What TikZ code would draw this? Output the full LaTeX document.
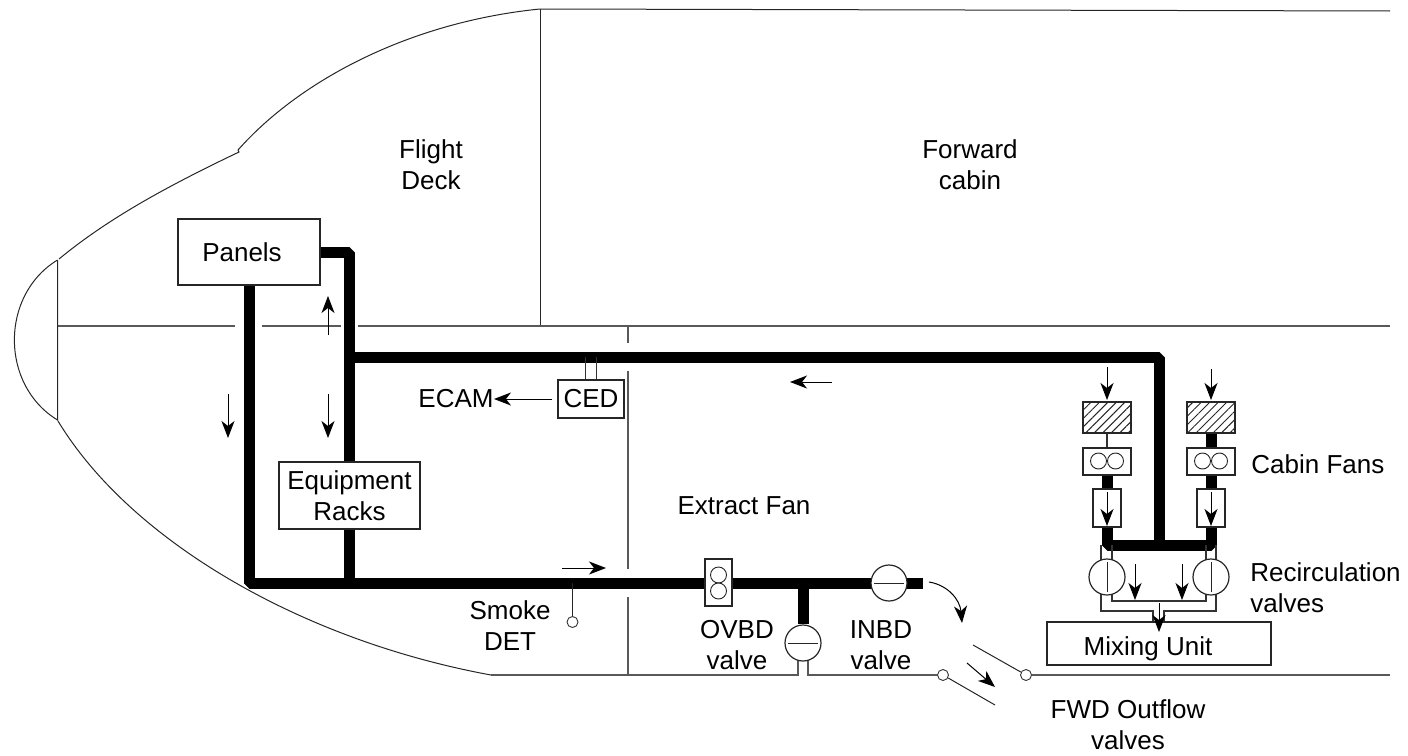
\documentclass[tikz,border=0pt]{standalone}
\usepackage{fontspec}
\setmainfont{Liberation Sans}
\usetikzlibrary{positioning, arrows.meta, patterns.meta, backgrounds}
\tikzset{
  box/.style={draw=black!85, line width=0.6pt, fill=white, inner sep=0pt, font=\fontsize{13}{15.5}\selectfont, align=center},
  filt/.style={draw=black!85, line width=0.7pt, pattern={Lines[angle=45, distance=3pt, line width=0.5pt]}, pattern color=black!85, minimum width=24pt, minimum height=15.5pt, inner sep=0pt},
  fanbox/.style={box, minimum width=24pt, minimum height=13.5pt},
  chk/.style={box, minimum width=14pt, minimum height=19pt},
  vlv/.style={circle, draw=black!85, line width=0.6pt, fill=white, minimum size=18pt, inner sep=0pt},
  rotor/.style={circle, draw=black!85, line width=0.45pt, fill=white, minimum size=8pt, inner sep=0pt},
  hinge/.style={circle, draw=black!80, line width=0.45pt, fill=white, minimum size=5.5pt, inner sep=0pt},
  duct/.style={line width=5.5pt, black, line join=bevel},
  flow/.style={-{Stealth[length=8.5pt, width=6.5pt, inset=2.5pt]}, line width=0.5pt, black},
  hull/.style={line width=0.5pt, black!85},
  deck/.style={line width=0.6pt, black!65},
  pipe/.style={line width=0.55pt, black!80},
  lbl/.style={font=\fontsize{13}{15.5}\selectfont, align=center, inner sep=0pt}
}
\begin{document}
\begin{tikzpicture}[x=0.5pt, y=-0.5pt]
  \useasboundingbox (0,0) rectangle (1408,755);
  % Boxes
  \node[box, minimum width=71pt, minimum height=33pt] (panels) at (249,252) {Panels\hspace{7pt}};
  \node[box, minimum width=70.5pt, minimum height=33.5pt] (racks) at (349.5,495.5) {Equipment\\Racks};
  \node[box, minimum width=33pt, minimum height=19pt] (ced) at (591,399) {CED};
  \node[box, minimum width=112pt, minimum height=21.5pt] (mix) at (1159,643.5) {\rule{0pt}{14.2pt}Mixing Unit\hspace{11pt}};
  % Cabin fans
  \node[filt] (filtl) at (1107,417.5) {};
  \node[filt] (filtr) at (1211,417.5) {};
  \node[fanbox] (fanl) at (1107,461.5) {};
  \node[fanbox] (fanr) at (1211,461.5) {};
  \node[rotor] (fanla) at (1098.5,461) {};
  \node[rotor] (fanlb) at (1115.5,461) {};
  \node[rotor] (fanra) at (1202.5,461) {};
  \node[rotor] (fanrb) at (1219.5,461) {};
  \node[chk] (chkl) at (1107,508) {};
  \node[chk] (chkr) at (1211,508) {};
  % Extract fan and valves
  \node[box, minimum width=13.5pt, minimum height=23.5pt] (xfan) at (718.5,582.5) {};
  \node[rotor] (xfana) at (718.5,575) {};
  \node[rotor] (xfanb) at (718.5,591) {};
  \node[vlv] (inbd) at (889,583) {};
  \node[vlv] (ovbd) at (803,643) {};
  \node[vlv] (recl) at (1107,577) {};
  \node[vlv] (recr) at (1211,577) {};
  \node[hinge] (hingea) at (943,675) {};
  \node[hinge] (hingeb) at (1026,675) {};
  \node[hinge] (smoke) at (572.5,622) {};
  % Texts
  \node[lbl] (flight) at (431,165) {Flight\\Deck};
  \node[lbl] (fwd) at (970,165) {Forward\\cabin};
  \node[lbl] (ecam) at (456,399) {ECAM};
  \node[lbl] (xlbl) at (744,506) {Extract Fan};
  \node[lbl] (smokelbl) at (510,626) {Smoke\\DET};
  \node[lbl] (ovbdlbl) at (737,645) {OVBD\\valve};
  \node[lbl] (inbdlbl) at (881,645) {INBD\\valve};
  \node[lbl, anchor=west] (fanlbl) at (1251,464) {Cabin Fans};
  \node[lbl, anchor=west, align=left] (reclbl) at (1250,588) {Recirculation\\valves};
  \node[lbl] (outlbl) at (1128,725) {FWD Outflow\\valves};
  % Junctions
  \coordinate (cornbl) at (249,583);
  \coordinate (cornr) at (1159,357);
  \coordinate (coll) at (1159,545);
  \coordinate (ductend) at (923,583);
  % Ducts and pipes
  \begin{scope}[on background layer]
    \draw[duct] (panels) -- (cornbl) -- (ductend);
    \draw[duct] (panels) -| (racks);
    \draw[duct] (racks) -- (racks |- cornbl);
    \draw[duct] (racks |- cornr) -- (cornr) -- (coll);
    \draw[duct] (fanl) -- (fanl |- coll) -- (fanr |- coll) -- (filtr.south);
    \draw[duct] (ovbd |- cornbl) -- (ovbd);
    \draw[pipe] (filtl.south) -- (fanl);
    \draw[pipe] ([xshift=-2.75pt]ced.center) -- ([xshift=-2.75pt]ced.center |- cornr);
    \draw[pipe] ([xshift=2.75pt]ced.center) -- ([xshift=2.75pt]ced.center |- cornr);
    \draw[pipe] ([xshift=-3pt]recl.center) -- ++(0,-32);
    \draw[pipe] ([xshift=2.5pt]recl.center) -- ++(0,-32);
    \draw[pipe] ([xshift=-2.5pt]recr.center) -- ++(0,-32);
    \draw[pipe] ([xshift=2.5pt]recr.center) -- ++(0,-32);
    \draw[pipe] ([xshift=2.5pt]recl.center) -- ++(0,24) -| ([xshift=-2.5pt]recr.center);
    \draw[pipe] ([xshift=-3pt]recl.center) |- ++(52,34) -- ([xshift=-3pt]mix.north);
    \draw[pipe] ([xshift=2.5pt]recr.center) |- ++(-52,34) -- ([xshift=2.5pt]mix.north);
    % Fuselage floor
    \coordinate (floora) at (491,675);
    \coordinate (floorb) at (1390,675);
    \draw[deck] (floora) -- ([xshift=-2.5pt]ovbd.center |- floora) -- ([xshift=-2.5pt]ovbd.center);
    \draw[deck] (hingea) -- ([xshift=2.5pt]ovbd.center |- floora) -- ([xshift=2.5pt]ovbd.center);
    \draw[deck] (hingeb) -- (floorb);
  \end{scope}
  % Fuselage
  \coordinate (crown) at (540,9);
  \coordinate (crownr) at (1390,11);
  \coordinate (kinka) at (238,150);
  \coordinate (kinkb) at (239,152);
  \coordinate (radt) at (57.5,260);
  \coordinate (radb) at (57.5,420);
  \draw[hull] (crownr) -- (crown) .. controls (410,22) and (300,80) .. (kinka) -- (kinkb) .. controls (170,185) and (110,217) .. (59,259);
  \draw[hull] (radt) -- (radb) .. controls (0,385) and (0,295) .. (radt);
  \draw[hull] (58,421) .. controls (130,540) and (300,640) .. (floora);
  \draw[hull] (crown) -- (540,326);
  \draw[deck] (radb |- 0,326) -- (235,326);
  \draw[deck] (262,326) -- (341,326);
  \draw[deck] (358,326) -- (1390,326);
  \draw[deck] (628,326) -- (628,343);
  \draw[deck] (628,371) -- (628,569);
  \draw[deck] (628,597) -- (628,675);
  % Valve vanes
  \draw[hull] ([yshift=-7.5pt]recl.center) -- ([yshift=7.5pt]recl.center);
  \draw[hull] ([yshift=-7.5pt]recr.center) -- ([yshift=7.5pt]recr.center);
  \draw[hull] ([xshift=-7.5pt]inbd.center) -- ([xshift=7.5pt]inbd.center);
  \draw[hull] ([xshift=-7.5pt]ovbd.center) -- ([xshift=7.5pt]ovbd.center);
  % Outflow doors and smoke probe
  \coordinate (doora) at (995,705);
  \coordinate (doorb) at (973,645);
  \draw[hull] (hingea) -- (doora);
  \draw[hull] (hingeb) -- (doorb);
  \draw[hull] (smoke) -- (smoke |- cornbl);
  % Flow arrows
  \draw[flow] ([xshift=-2.5pt]ced.west) -- (ecam.east);
  \draw[flow] (328,335) -- (328,296);
  \draw[flow] (228,394) -- (228,438);
  \draw[flow] (328,394) -- (328,438);
  \draw[flow] (562,568) -- (606,568);
  \draw[flow] (832,382) -- (790,382);
  \draw[flow] (1107,367) -- (1107,400);
  \draw[flow] (1211,369) -- (1211,400);
  \draw[flow] (1107,492) -- (1107,526);
  \draw[flow] (1211,492) -- (1211,526);
  \draw[flow] (1135,564) -- (1135,600);
  \draw[flow] (1182,564) -- (1182,600);
  \draw[flow] (1159,603) -- (1159,632);
  \draw[flow] (967,663) -- (995,687);
  \draw[flow] (929,582) .. controls (948,585) and (960,600) .. (962,623);
\end{tikzpicture}
\end{document}
